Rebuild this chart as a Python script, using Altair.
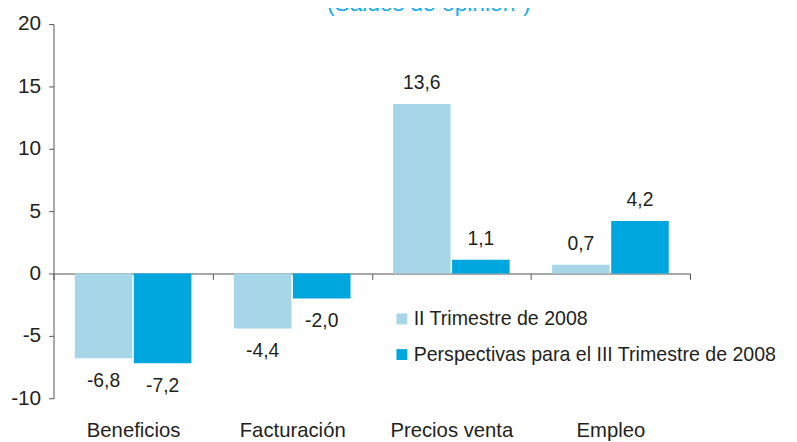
import altair as alt
import pandas as pd

categories = ["Beneficios", "Facturación", "Precios venta", "Empleo"]
series_names = ["II Trimestre de 2008", "Perspectivas para el III Trimestre de 2008"]
ii_trimestre = [-6.8, -4.4, 13.6, 0.7]
perspectivas = [-7.2, -2.0, 1.1, 4.2]
y_ticks = [-10, -5, 0, 5, 10, 15, 20]
title_text = "(Saldos de opinión¹)"
colors = ["#A7D6E9", "#00A7DF"]

rows = []
for s, vals in zip(series_names, [ii_trimestre, perspectivas]):
    for c, v in zip(categories, vals):
        rows.append({"cat": c, "serie": s, "valor": v,
                     "etiqueta": f"{v:.1f}".replace(".", ",")})
df = pd.DataFrame(rows)

FONT = "Liberation Sans"
TXT = "#231F20"

x_enc = alt.X("cat:N", sort=categories,
              scale=alt.Scale(paddingInner=0, paddingOuter=0),
              axis=alt.Axis(title=None, labelAngle=0, tickBand="extent",
                            offset=-126, labelPadding=143, tickSize=6,
                            labelFontSize=20.5, labelFont=FONT, labelColor=TXT,
                            domainColor="#555555", tickColor="#555555",
                            domainWidth=1.2, grid=False))
y_enc = alt.Y("valor:Q",
              scale=alt.Scale(domain=[-10, 20], nice=False, zero=False),
              axis=alt.Axis(title=None, values=y_ticks, tickSize=5,
                            labelExpr="toString(datum.value)",
                            labelPadding=8, labelFontSize=21, labelFont=FONT,
                            labelColor=TXT, domainColor="#555555",
                            tickColor="#555555", grid=False))
xo = alt.XOffset("serie:N", sort=series_names,
                 scale=alt.Scale(paddingInner=0.025, paddingOuter=0.36))

base = alt.Chart(df)

bars = base.mark_bar().encode(
    x=x_enc, y=y_enc, xOffset=xo,
    color=alt.Color("serie:N", sort=series_names,
                    scale=alt.Scale(domain=series_names, range=colors),
                    legend=alt.Legend(title=None, orient="none",
                                      legendX=342, legendY=288,
                                      symbolType="square", symbolSize=121,
                                      symbolStrokeWidth=0,
                                      labelFontSize=19.8, labelFont=FONT,
                                      labelColor=TXT, rowPadding=15,
                                      labelOffset=2, labelLimit=500)))

pos_labels = base.transform_filter("datum.valor >= 0").mark_text(
    baseline="alphabetic", dy=-15, fontSize=19.5, font=FONT, color=TXT
).encode(x=x_enc, y=y_enc, xOffset=xo, text="etiqueta:N")

neg_labels = base.transform_filter("datum.valor < 0").mark_text(
    baseline="alphabetic", dy=29, fontSize=19.5, font=FONT, color=TXT
).encode(x=x_enc, y=y_enc, xOffset=xo, text="etiqueta:N")

title = alt.Chart(pd.DataFrame({"t": [title_text]})).mark_text(
    fontSize=23, font=FONT, color="#12AEEC", baseline="alphabetic", align="center"
).encode(x=alt.value(379), y=alt.value(-13), text="t:N")

chart = alt.layer(bars, pos_labels, neg_labels, title).properties(
    width=643, height=378,
    autosize=alt.AutoSizeParams(type="none"),
    padding={"left": 46, "top": 14, "right": 100, "bottom": 42},
).configure_view(stroke=None)

chart.save("out.html", embed_options={"renderer": "svg", "actions": False})
